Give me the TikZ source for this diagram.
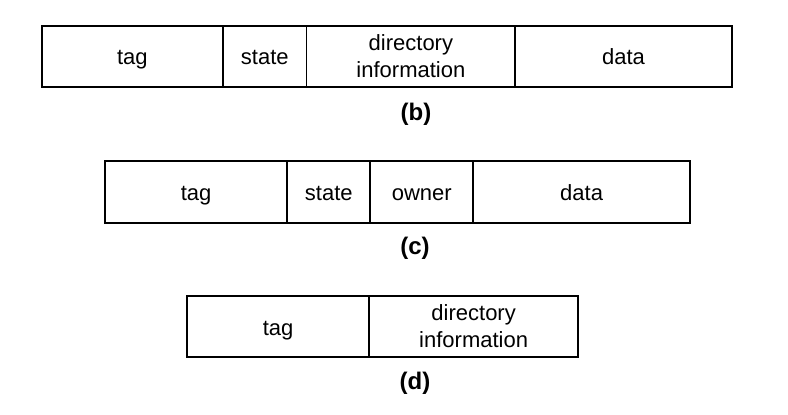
\documentclass[tikz,border=0pt]{standalone}
\usepackage{fontspec}
\setmainfont{Liberation Sans}
\begin{document}
\begin{tikzpicture}[x=1pt,y=-1pt,
  cell/.style={draw, line width=1.8pt, anchor=west, inner sep=0pt, outer sep=0pt,
    align=center, font=\fontsize{22}{26.5}\selectfont},
  one/.style={text height=17.4pt, text depth=0pt},
  caption/.style={font=\fontsize{24}{28}\selectfont\bfseries, inner sep=0pt}]
\useasboundingbox (0,0) rectangle (788,415);
% row (b)
\node[cell, one, minimum width=181.3pt, minimum height=61pt] (b1) at (41.7,56.2) {tag};
\node[cell, one, minimum width=83.5pt, minimum height=61pt] (b2) at (223,56.2) {state};
\node[cell, minimum width=208.8pt, minimum height=61pt] (b3) at (306.5,56.2) {directory\\information};
\node[cell, one, minimum width=216.4pt, minimum height=61pt] (b4) at (515.3,56.2) {data};
\node[caption] (lb) at (416,114) {(b)};
% row (c)
\node[cell, one, minimum width=182.3pt, minimum height=62pt] (c1) at (105,191.7) {tag};
\node[cell, one, minimum width=82.9pt, minimum height=62pt] (c2) at (287.3,191.7) {state};
\node[cell, one, minimum width=103.1pt, minimum height=62pt] (c3) at (370.2,191.7) {owner};
\node[cell, one, minimum width=216.7pt, minimum height=62pt] (c4) at (473.3,191.7) {data};
\node[caption] (lc) at (415,248) {(c)};
% row (d)
\node[cell, one, minimum width=181.7pt, minimum height=61.3pt] (d1) at (187.3,326.3) {tag};
\node[cell, minimum width=209.3pt, minimum height=61.3pt] (d2) at (369,326.3) {directory\\information};
\node[caption] (ld) at (415,383) {(d)};
\end{tikzpicture}
\end{document}
